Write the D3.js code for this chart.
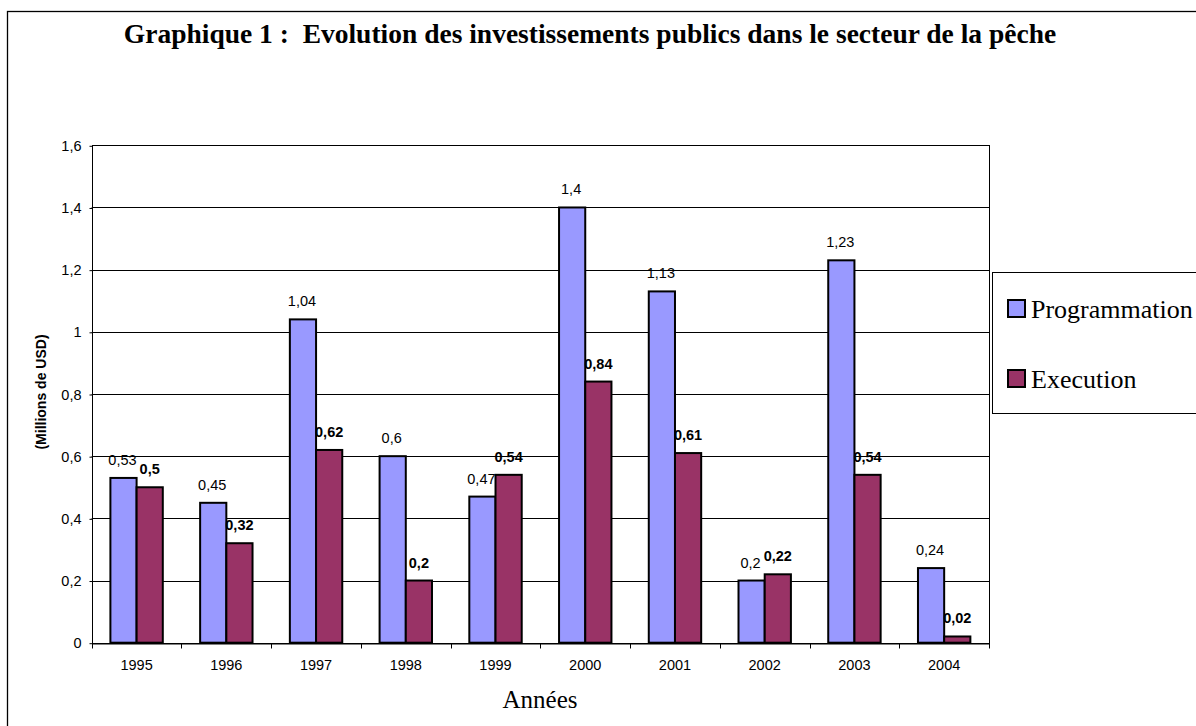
<!DOCTYPE html>
<html>
<head>
<meta charset="utf-8">
<script src="https://cdn.jsdelivr.net/npm/d3@7"></script>
<style>
  body { margin: 0; background: #fff; }
  svg { display: block; }
</style>
</head>
<body>
<svg id="chart" width="1196" height="726"></svg>
<script>
// ---------------- Data ----------------
var years = ["1995", "1996", "1997", "1998", "1999", "2000", "2001", "2002", "2003", "2004"];
var programmation = [0.53, 0.45, 1.04, 0.6, 0.47, 1.4, 1.13, 0.2, 1.23, 0.24];
var execution = [0.5, 0.32, 0.62, 0.2, 0.54, 0.84, 0.61, 0.22, 0.54, 0.02];
var yTicks = [0, 0.2, 0.4, 0.6, 0.8, 1, 1.2, 1.4, 1.6];
var seriesNames = ["Programmation", "Execution"];
var colors = ["#9999FF", "#993366"];

var fmt = function(v) { return String(v).replace(".", ","); };

// ---------------- Layout ----------------
var svg = d3.select("#chart");
var plotLeft = 91.7, plotRight = 989, plotTop = 145.3, plotBottom = 642.7;
var sans = "'Liberation Sans', Arial, sans-serif";
var serif = "'Liberation Serif', 'Times New Roman', serif";

// outer frame (goes past the picture on right and bottom)
svg.append("rect")
    .attr("x", 7.5).attr("y", 11.5)
    .attr("width", 1300).attr("height", 800)
    .attr("fill", "none").attr("stroke", "#000").attr("stroke-width", 1.3);

// title
svg.append("text")
    .attr("x", 590).attr("y", 43)
    .attr("text-anchor", "middle")
    .style("white-space", "pre")
    .style("font-family", serif)
    .style("font-weight", "bold")
    .style("font-size", "27.5px")
    .text("Graphique 1 :  Evolution des investissements publics dans le secteur de la pêche");

// scales
var x = d3.scaleBand().domain(years).range([plotLeft, plotRight]);
var y = d3.scaleLinear().domain([0, 1.6]).range([plotBottom, plotTop]);
var inner = d3.scaleBand().domain(seriesNames).range([18.7, 18.7 + 52.4]);

// gridlines
svg.append("g")
    .selectAll("line")
    .data(yTicks.slice(1, -1))
    .enter()
    .append("line")
        .attr("x1", plotLeft).attr("x2", plotRight)
        .attr("y1", d => Math.round(y(d)) + 0.5)
        .attr("y2", d => Math.round(y(d)) + 0.5)
        .attr("stroke", "#000").attr("stroke-width", 1);

// plot border
svg.append("rect")
    .attr("x", Math.round(plotLeft) + 0.5).attr("y", Math.round(plotTop) + 0.5)
    .attr("width", Math.round(plotRight) - Math.round(plotLeft))
    .attr("height", Math.round(plotBottom) - Math.round(plotTop))
    .attr("fill", "none").attr("stroke", "#000").attr("stroke-width", 1);

// y axis
var yAxis = d3.axisLeft(y).tickValues(yTicks).tickSize(3).tickPadding(8).tickFormat(fmt);
var gy = svg.append("g")
    .attr("transform", `translate(${Math.round(plotLeft) + 0.5},0.5)`)
    .call(yAxis);
gy.select(".domain").remove();
gy.selectAll("text")
    .style("font-family", sans)
    .style("font-size", "14.5px")
    .attr("fill", "#000");

// x axis
var xAxis = d3.axisBottom(x).tickSize(0).tickPadding(16);
var gx = svg.append("g")
    .attr("transform", `translate(0,${Math.round(plotBottom) + 0.5})`)
    .call(xAxis);
gx.select(".domain").attr("stroke", "#000");
gx.selectAll("text")
    .style("font-family", sans)
    .style("font-size", "14.5px")
    .attr("fill", "#000");
// category boundary ticks
gx.append("g")
    .selectAll("line")
    .data(d3.range(years.length + 1))
    .enter()
    .append("line")
        .attr("x1", i => Math.round(plotLeft + i * x.step()) + 0.5)
        .attr("x2", i => Math.round(plotLeft + i * x.step()) + 0.5)
        .attr("y1", 0).attr("y2", 5)
        .attr("stroke", "#000");

// bars
var rows = years.map((yr, i) => ({ year: yr, values: [programmation[i], execution[i]] }));

var groups = svg.append("g")
    .selectAll(".grp")
    .data(rows)
    .enter()
    .append("g")
        .attr("transform", d => `translate(${x(d.year)},0)`);

groups.selectAll("rect")
    .data(d => d.values.map((v, k) => ({ name: seriesNames[k], value: v, k: k })))
    .enter()
    .append("rect")
        .attr("x", d => inner(d.name))
        .attr("y", d => y(d.value))
        .attr("width", inner.bandwidth())
        .attr("height", d => plotBottom - y(d.value))
        .attr("fill", d => colors[d.k])
        .attr("stroke", "#000")
        .attr("stroke-width", 2);

// value labels
groups.selectAll("text")
    .data(d => d.values.map((v, k) => ({ name: seriesNames[k], value: v, k: k })))
    .enter()
    .append("text")
        .attr("x", d => inner(d.name) + inner.bandwidth() / 2 + (d.k === 0 ? -1 : 0))
        .attr("y", d => y(d.value) - 13)
        .attr("text-anchor", "middle")
        .style("font-family", sans)
        .style("font-size", "14.5px")
        .style("font-weight", d => d.k === 1 ? "bold" : "normal")
        .text(d => fmt(d.value));

// y axis title
svg.append("text")
    .attr("transform", `translate(46,392) rotate(-90)`)
    .attr("text-anchor", "middle")
    .style("font-family", sans)
    .style("font-size", "14px")
    .style("font-weight", "bold")
    .text("(Millions de USD)");

// x axis title
svg.append("text")
    .attr("x", 540).attr("y", 708)
    .attr("text-anchor", "middle")
    .style("font-family", serif)
    .style("font-size", "25px")
    .text("Années");

// legend
var legend = svg.append("g");
legend.append("rect")
    .attr("x", 992.5).attr("y", 272.5)
    .attr("width", 300).attr("height", 141)
    .attr("fill", "#fff").attr("stroke", "#000").attr("stroke-width", 1);

var items = legend.selectAll(".item")
    .data(seriesNames)
    .enter()
    .append("g")
        .attr("transform", (d, i) => `translate(1008,${300 + i * 70})`);
items.append("rect")
    .attr("width", 17).attr("height", 17)
    .attr("fill", (d, i) => colors[i])
    .attr("stroke", "#000").attr("stroke-width", 2);
items.append("text")
    .attr("x", 23).attr("y", 18)
    .style("font-family", serif)
    .style("font-size", "26px")
    .text(d => d);
</script>
</body>
</html>
